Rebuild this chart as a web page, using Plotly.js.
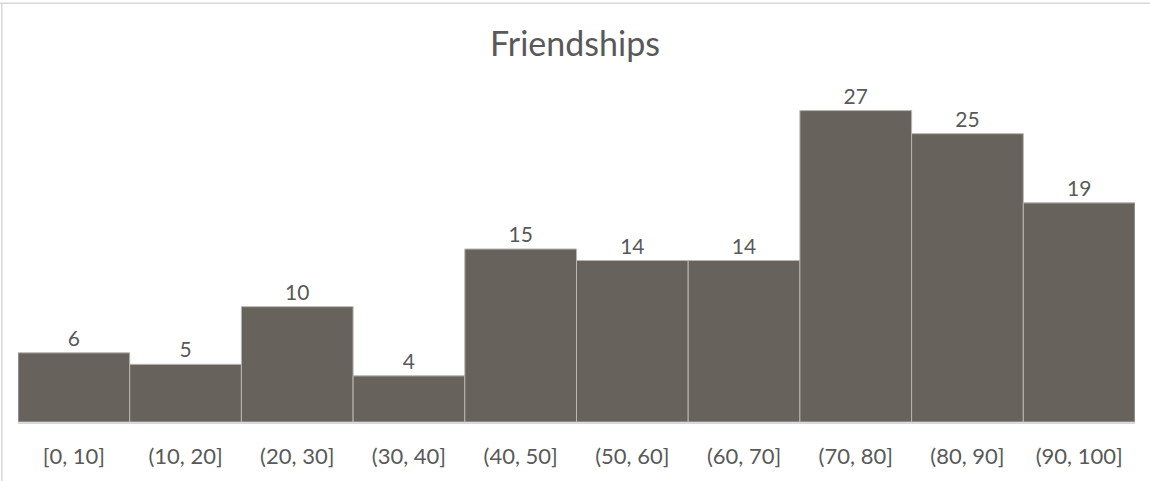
<!DOCTYPE html>
<html>
<head>
<meta charset="utf-8">
<script src="https://cdn.plot.ly/plotly-3.0.1.min.js"></script>
<style>
  html, body { margin: 0; padding: 0; background: #fff; }
  #chart { width: 1150px; height: 481px; }
</style>
</head>
<body>
<div id="chart"></div>
<script>
// Histogram bins and counts
const bins = ["[0, 10]", "(10, 20]", "(20, 30]", "(30, 40]", "(40, 50]",
              "(50, 60]", "(60, 70]", "(70, 80]", "(80, 90]", "(90, 100]"];
const counts = [6, 5, 10, 4, 15, 14, 14, 27, 25, 19];

const textColor = "#595959";
const fontFamily = "Lato, 'Open Sans', sans-serif";

const trace = {
  type: "bar",
  x: bins,
  y: counts,
  text: counts.map(String),
  textposition: "outside",
  cliponaxis: false,
  textfont: { family: fontFamily, size: 21, color: textColor },
  marker: {
    color: "#67625c",
    line: { color: "#b9b6b2", width: 1 }
  },
  hoverinfo: "x+y"
};

const layout = {
  width: 1150,
  height: 481,
  margin: { l: 18, r: 15, t: 76, b: 59 },
  paper_bgcolor: "#ffffff",
  plot_bgcolor: "#ffffff",
  bargap: 0,
  showlegend: false,
  title: {
    text: "Friendships",
    font: { family: fontFamily, size: 34, color: textColor },
    x: 0.5,
    xanchor: "center",
    y: 0.908,
    yanchor: "middle"
  },
  xaxis: {
    type: "category",
    showgrid: false,
    zeroline: false,
    showline: true,
    linecolor: "#d9d9d9",
    linewidth: 2,
    ticks: "",
    ticklabelstandoff: 14,
    tickfont: { family: fontFamily, size: 22, color: textColor }
  },
  yaxis: {
    range: [0, 30],
    visible: false,
    showgrid: false,
    zeroline: false
  },
  shapes: [
    { type: "line", xref: "paper", yref: "paper", x0: -0.02, x1: 1.02, y0: 1.21, y1: 1.21,
      line: { color: "#d9d9d9", width: 1.5 } },
    { type: "line", xref: "paper", yref: "paper", x0: -0.0145, x1: -0.0145, y0: -0.2, y1: 1.21,
      line: { color: "#d9d9d9", width: 1.5 } }
  ]
};

Plotly.newPlot("chart", [trace], layout, { displayModeBar: false, staticPlot: true });
</script>
</body>
</html>
